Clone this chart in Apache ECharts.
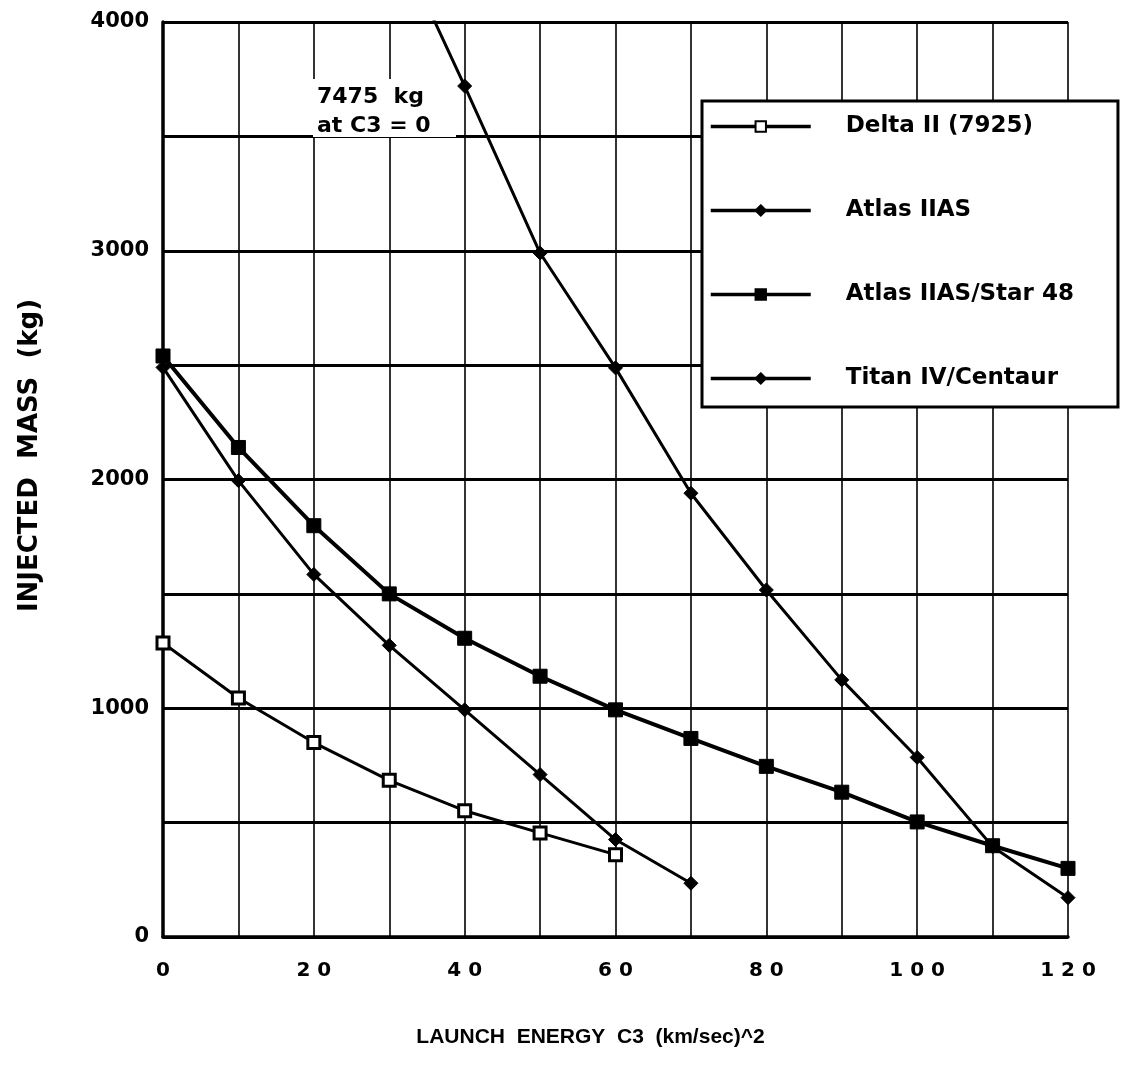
<!DOCTYPE html>
<html>
<head>
<meta charset="utf-8">
<script src="https://cdn.jsdelivr.net/npm/echarts@6/dist/echarts.min.js"></script>
<style>
  html, body { margin: 0; padding: 0; background: #fff; }
  #chart { width: 1124px; height: 1088px; }
</style>
</head>
<body>
<div id="chart"></div>
<script>
// launch energy C3, (km/sec)^2
const c3 = [0, 10, 20, 30, 40, 50, 60, 70, 80, 90, 100, 110, 120]

// injected mass, kg
const deltaII = [1285, 1045, 850, 685, 552, 455, 360]
const atlasIIAS = [2490, 1995, 1585, 1275, 993, 710, 426, 235]
const atlasStar48 = [2540, 2140, 1798, 1500, 1306, 1140, 993, 868, 746, 633, 503, 399, 300]
// Titan values below C3 = 40 run off the top of the chart (7475 kg at C3 = 0)
const titanCentaur = [7475, 6300, 5300, 4430, 3720, 2990, 2488, 1940, 1517, 1124, 785, 395, 172]

const pairs = ys => ys.map((y, i) => [c3[i], y])

const chart = echarts.init(document.getElementById('chart'), null, { renderer: 'canvas' })

const labelFont = { color: '#000', fontFamily: 'DejaVu Sans', fontWeight: 'bold' }
const textFont = { color: '#000', fontFamily: 'Liberation Sans', fontWeight: 'bold' }

const lineSeries = (name, data, symbol, size, width, extra) => Object.assign({
  name,
  type: 'line',
  data: pairs(data),
  symbol,
  symbolSize: size,
  clip: true,
  lineStyle: { color: '#000', width },
  itemStyle: { color: '#000', borderColor: '#000', borderWidth: 1 },
  emphasis: { disabled: true },
  z: 3,
}, extra || {})

const noteStyle = (text, y) => ({
  type: 'text', x: 4, y, z: 2,
  style: {
    text, fill: '#000', fontSize: 22, fontWeight: 'bold',
    fontFamily: 'DejaVu Sans', verticalAlign: 'middle',
  },
})

chart.setOption({
  animation: false,
  backgroundColor: '#fff',
  grid: { left: 163, right: 56, top: 22, bottom: 151 },
  xAxis: {
    type: 'value',
    min: 0,
    max: 120,
    interval: 10,
    name: 'LAUNCH  ENERGY  C3  (km/sec)^2',
    nameLocation: 'middle',
    nameGap: 90,
    nameTextStyle: Object.assign({ fontSize: 21, padding: [0, 50, 0, 0] }, textFont),
    axisLine: { lineStyle: { color: '#000', width: 3.5 } },
    axisTick: { show: false },
    splitLine: { show: true, lineStyle: { color: '#000', width: 1.6 } },
    axisLabel: Object.assign({
      fontSize: 20,
      margin: 24,
      formatter: v => (v % 20 === 0 ? String(v).split('').join(' ') : ''),
    }, labelFont),
  },
  yAxis: {
    type: 'value',
    min: 0,
    max: 4000,
    interval: 500,
    name: 'INJECTED  MASS  (kg)',
    nameLocation: 'middle',
    nameGap: 120,
    nameTextStyle: Object.assign({ fontSize: 26, padding: [0, 0, 0, 48] }, labelFont),
    axisLine: { lineStyle: { color: '#000', width: 3.5 } },
    axisTick: { show: false },
    splitLine: { show: true, lineStyle: { color: '#000', width: 3 } },
    axisLabel: Object.assign({
      fontSize: 21,
      margin: 14,
      formatter: v => (v % 1000 === 0 ? String(v) : ''),
    }, labelFont),
  },
  legend: {
    orient: 'vertical',
    left: 702,
    top: 101,
    padding: [14, 44, 17, 7],
    itemGap: 61,
    itemWidth: 100,
    itemHeight: 13,
    backgroundColor: '#fff',
    borderColor: '#000',
    borderWidth: 3,
    lineStyle: { width: 3.5, color: '#000' },
    textStyle: Object.assign({ fontSize: 23, padding: [0, 0, 0, 30] }, labelFont),
    data: ['Delta II (7925)', 'Atlas IIAS', 'Atlas IIAS/Star 48', 'Titan IV/Centaur'],
  },
  graphic: [
    {
      type: 'group',
      left: 313,
      top: 79,
      z: 2,
      children: [
        { type: 'rect', z: 2, shape: { x: 0, y: 0, width: 143, height: 58 }, style: { fill: '#fff' } },
        noteStyle('7475  kg', 18),
        noteStyle('at C3 = 0', 47),
      ],
    },
  ],
  series: [
    lineSeries('Delta II (7925)', deltaII, 'rect', 12, 3, {
      itemStyle: { color: '#fff', borderColor: '#000', borderWidth: 3 },
    }),
    lineSeries('Atlas IIAS', atlasIIAS, 'diamond', 14, 3),
    lineSeries('Atlas IIAS/Star 48', atlasStar48, 'rect', 14, 4),
    lineSeries('Titan IV/Centaur', titanCentaur, 'diamond', 14, 3),
  ],
})
</script>
</body>
</html>
